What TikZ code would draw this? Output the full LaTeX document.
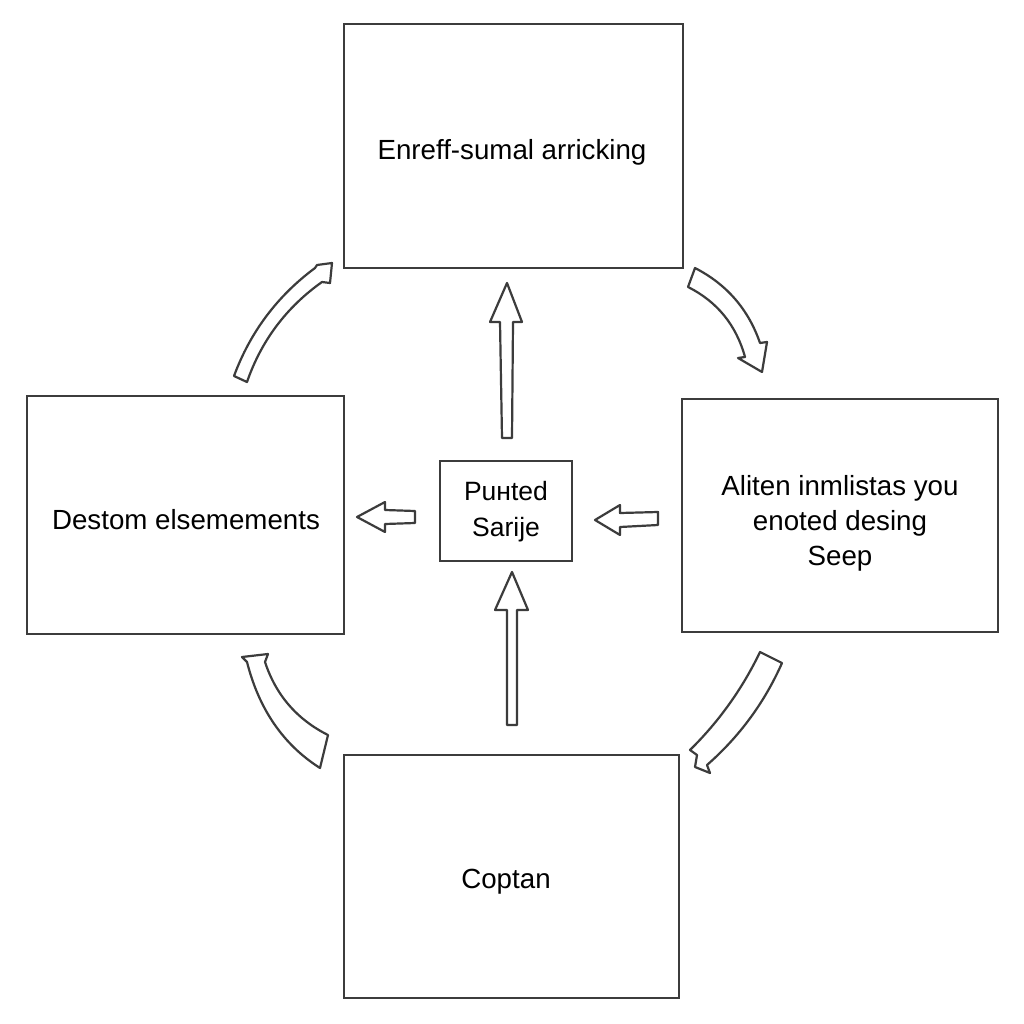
\documentclass[tikz,border=0pt]{standalone}
\usepackage{fontspec}
\setmainfont{Liberation Sans}
\definecolor{ink}{RGB}{60,60,60}
\begin{document}
\begin{tikzpicture}[x=1pt,y=-1pt,
  box/.style={draw=ink,line width=2.4pt,inner sep=0pt,fill=white},
  lbl/.style={inner sep=0pt,align=center,text=black,font=\fontsize{27.7}{35}\selectfont},
  blk/.style={draw=ink,line width=2.2pt,fill=white,line join=round}]
\useasboundingbox[fill=white] (0,0) rectangle (1024,1024);

% boxes
\node[box,minimum width=339pt,minimum height=244pt] (top) at (513.5,146) {};
\node[box,minimum width=317pt,minimum height=238pt] (left) at (185.5,515) {};
\node[box,minimum width=316pt,minimum height=233pt] (right) at (840,515.5) {};
\node[box,minimum width=335pt,minimum height=243pt] (bottom) at (511.5,876.5) {};
\node[box,minimum width=132pt,minimum height=100pt,line width=2.2pt] (center) at (506,511) {};

% labels
\node[lbl] (ttop) at (512,152) {Enreff-sumal arricking};
\node[lbl] (tleft) at (186,520) {Destom elsemements};
\node[lbl] (tright) at (840,523) {Aliten inmlistas you\\enoted desing\\Seep};
\node[lbl] (tbottom) at (506,882) {Coptan};
\node[lbl,font=\fontsize{26.5}{36}\selectfont] (tcenter) at (506,512) {Puнted\\Sarije};

% straight block arrows
\draw[blk] (507,283) -- (522,322) -- (513,322) -- (512,438) -- (502,438) -- (500,322) -- (490,322) -- cycle;
\draw[blk] (512,572) -- (528,610) -- (517,610) -- (517,725) -- (507,725) -- (507,610) -- (495,610) -- cycle;
\draw[blk] (357,517) -- (385,502) -- (385,510) -- (415,511) -- (415,523) -- (385,524) -- (385,532) -- cycle;
\draw[blk] (595,520) -- (620,505) -- (620,513) -- (658,512) -- (658,525) -- (620,527) -- (620,535) -- cycle;

% curved block arrows
% upper left
\draw[blk] (234,376) .. controls (250.3,332) and (277.3,296) .. (315,268) -- (317,265) -- (332,263) -- (330,283)
  -- (322,282) .. controls (286.3,307.3) and (261.3,340.7) .. (247,382) -- cycle;
% upper right
\draw[blk] (695,268) .. controls (726.7,284.3) and (748.4,309.3) .. (760,343) -- (767,342) -- (762,372) -- (738,358)
  -- (745,357) .. controls (736.1,324.9) and (717.1,301.6) .. (688,287) -- cycle;
% lower left
\draw[blk] (242,657) -- (268,654) -- (265,662) .. controls (275.9,695.1) and (296.9,719.4) .. (328,735)
  -- (320,768) .. controls (283.3,744.7) and (259,709.3) .. (247,662) -- cycle;
% lower right
\draw[blk] (760,652) -- (782,663) .. controls (764.5,702.5) and (739.5,736.5) .. (707,765) -- (710,773) -- (695,767)
  -- (697,755) -- (690,750) -- (692,748) .. controls (720,720) and (742.7,688) .. cycle;
\end{tikzpicture}
\end{document}
